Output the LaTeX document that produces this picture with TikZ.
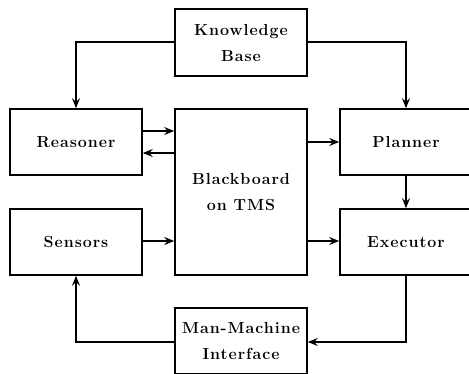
\documentclass[tikz,border=0pt]{standalone}
\usepackage{fontspec}
\usetikzlibrary{arrows.meta}
\newfontfamily\boxfont{Latin Modern Roman}[LetterSpace=6]
\begin{document}
\begin{tikzpicture}[x=1pt,y=-1pt,
  blk/.style={draw,line width=1.6pt,minimum width=132pt,inner sep=0pt,align=center,
    font=\boxfont\fontsize{16}{26}\selectfont\bfseries},
  flow/.style={line width=1.4pt,-{Stealth[length=10pt,width=8pt,inset=3.5pt]}}]
\useasboundingbox (0,0) rectangle (469,374);
% blocks
\node[blk,minimum height=67pt] (kb)  at (241,42.5)  {Knowledge\\Base};
\node[blk,minimum height=66pt] (rea) at (76,142)    {Reasoner};
\node[blk,minimum height=166pt] (bb) at (241,192)   {Blackboard\\on TMS};
\node[blk,minimum height=66pt] (pla) at (406,142)   {Planner};
\node[blk,minimum height=66pt] (sen) at (76,242)    {Sensors};
\node[blk,minimum height=66pt] (exe) at (406,242)   {Executor};
\node[blk,minimum height=66pt] (mmi) at (241,341)   {Man-Machine\\Interface};
% connectors
\draw[flow] (kb.west |- 0,42) -| (rea.north);
\draw[flow] (kb.east |- 0,42) -| (pla.north);
\draw[flow] (rea.east |- 0,131) -- (bb.west |- 0,131);
\draw[flow] (bb.west |- 0,153) -- (rea.east |- 0,153);
\draw[flow] (bb.east |- 0,142) -- (pla.west |- 0,142);
\draw[flow] (pla.south) -- (exe.north);
\draw[flow] (sen.east |- 0,241) -- (bb.west |- 0,241);
\draw[flow] (bb.east |- 0,241) -- (exe.west |- 0,241);
\draw[flow] (exe.south) |- (mmi.east |- 0,342);
\draw[flow] (mmi.west |- 0,342) -| (sen.south);
\end{tikzpicture}
\end{document}
